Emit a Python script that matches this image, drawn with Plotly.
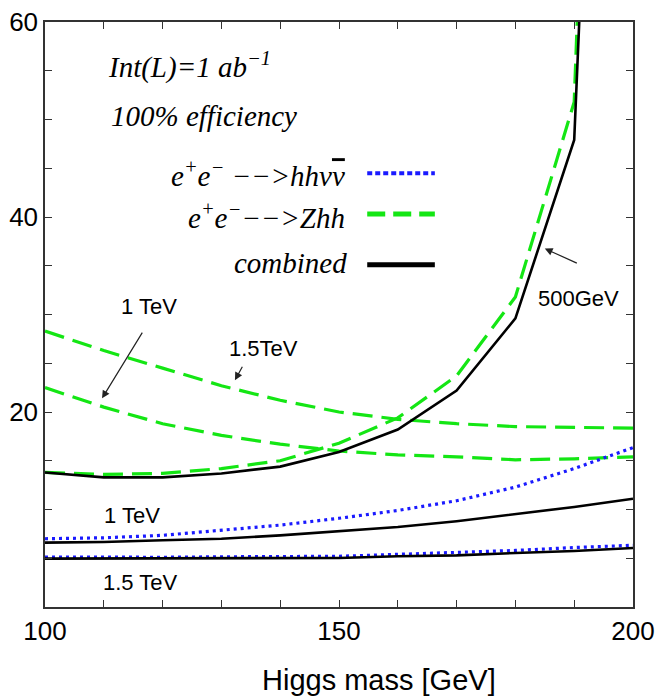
import plotly.graph_objects as go

# Higgs mass grid [GeV]
mass = [100, 110, 120, 130, 140, 150, 160, 170, 180, 190, 200]
mass_500 = [100, 110, 120, 130, 140, 150, 160, 170, 180, 190, 191]

# 500 GeV
zhh_500 = [13.8, 13.6, 13.7, 14.2, 15.0, 16.8, 19.4, 23.7, 31.8, 51.8, 68.0]
comb_500 = [13.8, 13.3, 13.3, 13.7, 14.4, 15.9, 18.2, 22.2, 29.6, 47.9, 62.0]

# 1 TeV
zhh_1000 = [22.5, 20.5, 18.8, 17.6, 16.7, 16.0, 15.6, 15.4, 15.1, 15.2, 15.4]
hhvv_1000 = [7.0, 7.1, 7.35, 7.9, 8.4, 9.1, 9.9, 10.9, 12.3, 14.2, 16.35]
comb_1000 = [6.6, 6.67, 6.84, 7.0, 7.35, 7.76, 8.2, 8.8, 9.5, 10.26, 11.1]

# 1.5 TeV
zhh_1500 = [28.3, 26.3, 24.5, 22.7, 21.2, 20.0, 19.25, 18.8, 18.5, 18.4, 18.35]
hhvv_1500 = [5.13, 5.1, 5.1, 5.15, 5.2, 5.2, 5.4, 5.58, 5.8, 6.1, 6.33]
comb_1500 = [4.96, 4.96, 4.97, 4.98, 5.0, 5.03, 5.2, 5.3, 5.54, 5.75, 6.05]

x_tickvals = list(range(100, 201, 10))
x_ticktext = ["100", "", "", "", "", "150", "", "", "", "", "200"]
y_tickvals = list(range(0, 61, 5))
y_ticktext = ["", "", "", "", "20", "", "", "", "40", "", "", "", "60"]

GREEN = "#14e614"
BLUE = "#1a1aff"
BLACK = "#000000"

green_dash = dict(color=GREEN, width=3.2, dash="20px,9px")
blue_dot = dict(color=BLUE, width=3.2, dash="3px,4px")
black_solid = dict(color=BLACK, width=2.6)

fig = go.Figure()
for xs, ys, ln in [
    (mass, zhh_1500, green_dash),
    (mass, zhh_1000, green_dash),
    (mass_500, zhh_500, green_dash),
    (mass, hhvv_1000, blue_dot),
    (mass, hhvv_1500, blue_dot),
    (mass_500, comb_500, black_solid),
    (mass, comb_1000, black_solid),
    (mass, comb_1500, black_solid),
]:
    fig.add_trace(go.Scatter(x=xs, y=ys, mode="lines", line=ln,
                             showlegend=False, hoverinfo="skip"))

serif = dict(family="Liberation Serif", size=29, color="black")
sans = dict(family="Liberation Sans", size=22, color="black")

ann = []
ann.append(dict(x=110.3, y=55.5, xref="x", yref="y", xanchor="left", yanchor="middle",
                text="<i>Int(L)=1 ab<sup>−1</sup></i>", showarrow=False, font=serif))
ann.append(dict(x=110.8, y=50.4, xref="x", yref="y", xanchor="left", yanchor="middle",
                text="<i>100% efficiency</i>", showarrow=False, font=serif))
ann.append(dict(x=151.4, y=44.4, xref="x", yref="y", xanchor="right", yanchor="middle",
                text="<i>e<sup>+</sup>e<sup>−</sup> −−>hhν<span style=\"text-decoration:overline\">ν</span></i>",
                showarrow=False, font=serif))
ann.append(dict(x=151.4, y=40.1, xref="x", yref="y", xanchor="right", yanchor="middle",
                text="<i>e<sup>+</sup>e<sup>−</sup>−−>Zhh</i>", showarrow=False, font=serif))
ann.append(dict(x=151.7, y=35.3, xref="x", yref="y", xanchor="right", yanchor="middle",
                text="<i>combined</i>", showarrow=False, font=serif))

# curve labels
ann.append(dict(x=117.7, y=30.8, xref="x", yref="y", text="1 TeV", showarrow=False, font=sans))
ann.append(dict(x=137.2, y=26.5, xref="x", yref="y", text="1.5TeV", showarrow=False, font=sans))
ann.append(dict(x=190.8, y=31.6, xref="x", yref="y", text="500GeV", showarrow=False, font=sans))
ann.append(dict(x=114.8, y=9.4, xref="x", yref="y", text="1 TeV", showarrow=False, font=sans))
ann.append(dict(x=116.3, y=2.56, xref="x", yref="y", text="1.5 TeV", showarrow=False, font=sans))

# arrows
for (hx, hy, tx, ty) in [(109.7, 21.4, 116.7, 28.3),
                         (132.3, 23.25, 133.7, 24.8),
                         (185.0, 36.76, 190.7, 35.2)]:
    ann.append(dict(x=hx, y=hy, ax=tx, ay=ty, xref="x", yref="y", axref="x", ayref="y",
                    text="", showarrow=True, arrowhead=2, arrowsize=1.3, arrowwidth=1.2,
                    arrowcolor="#222222"))

# axis title
ann.append(dict(x=0.568, y=-0.125, xref="paper", yref="paper", xanchor="center", yanchor="middle",
                text="Higgs mass [GeV]", showarrow=False,
                font=dict(family="Liberation Sans", size=29, color="black")))

fig.update_layout(annotations=ann)

# legend keys
for yv, ln in [(44.5, dict(color=BLUE, width=4, dash="5px,3px")),
               (40.3, dict(color=GREEN, width=5, dash="18px,8px")),
               (35.1, dict(color=BLACK, width=5))]:
    fig.add_shape(type="line", x0=154.8, x1=166.3, y0=yv, y1=yv, xref="x", yref="y", line=ln)

axis_common = dict(showgrid=False, zeroline=False, ticks="inside", ticklen=7, tickwidth=1.2,
                   tickcolor="#333333", showline=True, linecolor="#333333", linewidth=1.5,
                   mirror="ticks", automargin=False,
                   tickfont=dict(family="Liberation Sans", size=26, color="black"))

fig.update_xaxes(range=[100, 200], tickvals=x_tickvals, ticktext=x_ticktext, **axis_common)
fig.update_yaxes(range=[0, 60], tickvals=y_tickvals, ticktext=y_ticktext, **axis_common)

fig.update_layout(width=660, height=697, margin=dict(l=45, r=27, t=22, b=90),
                  plot_bgcolor="white", paper_bgcolor="white")

fig.write_html("out.html")
